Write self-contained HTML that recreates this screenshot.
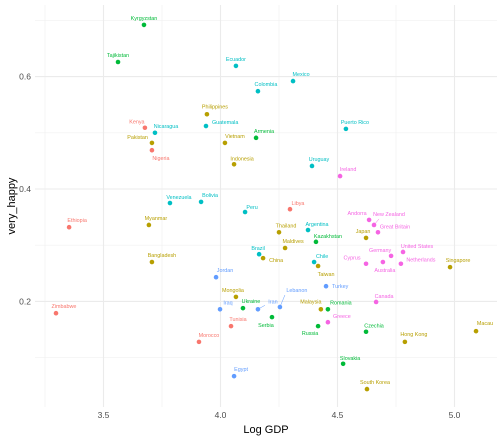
<!DOCTYPE html>
<html><head><meta charset="utf-8"><style>
html,body{margin:0;padding:0;background:#fff;}
svg{display:block;font-family:"Liberation Sans",sans-serif;}
</style></head><body>
<svg id="chart" width="503" height="439"></svg>
<script>
const countries=["Kyrgyzstan","Tajikistan","Ecuador","Mexico","Colombia","Puerto Rico","Armenia","Philippines","Guatemala","Kenya","Nicaragua","Pakistan","Nigeria","Vietnam","Indonesia","Uruguay","Ireland","Venezuela","Bolivia","Peru","Libya","Ethiopia","Myanmar","Andorra","New Zealand","Great Britain","Thailand","Argentina","Kazakhstan","Japan","Maldives","Brazil","China","Bangladesh","Chile","Taiwan","Cyprus","Germany","Australia","United States","Netherlands","Singapore","Jordan","Turkey","Mongolia","Canada","Ukraine","Iraq","Iran","Lebanon","Zimbabwe","Malaysia","Romania","Greece","Serbia","Tunisia","Russia","Czechia","Macau","Hong Kong","Morocco","Slovakia","Egypt","South Korea"];
const logGdp=[3.673,3.562,4.066,4.310,4.160,4.536,4.152,3.942,3.938,3.677,3.720,3.707,3.707,4.019,4.058,4.391,4.511,3.784,3.917,4.105,4.297,3.353,3.694,4.635,4.656,4.673,4.250,4.374,4.408,4.622,4.276,4.165,4.182,3.707,4.400,4.417,4.622,4.729,4.694,4.780,4.771,4.981,3.981,4.451,4.066,4.665,4.096,3.998,4.160,4.254,3.297,4.429,4.459,4.459,4.220,4.045,4.417,4.622,5.092,4.788,3.908,4.524,4.058,4.626];
const veryHappy=[0.692,0.626,0.619,0.592,0.574,0.507,0.491,0.533,0.512,0.509,0.500,0.482,0.469,0.482,0.444,0.441,0.423,0.375,0.377,0.359,0.364,0.332,0.336,0.345,0.336,0.323,0.323,0.327,0.306,0.313,0.295,0.284,0.277,0.270,0.270,0.263,0.267,0.281,0.270,0.288,0.267,0.261,0.243,0.227,0.208,0.199,0.188,0.186,0.186,0.190,0.179,0.186,0.186,0.163,0.172,0.156,0.156,0.146,0.147,0.128,0.128,0.089,0.067,0.044];
const regions=["E","E","L","L","L","L","E","A","L","F","L","A","F","A","A","L","W","L","L","L","F","F","A","W","W","W","A","L","E","A","A","L","A","A","L","A","W","W","W","W","W","A","M","M","A","W","E","M","M","M","F","A","E","W","E","F","E","E","A","A","F","E","M","A"];
const xTicks=[3.5,4.0,4.5,5.0];
const xTickLabels=["3.5","4.0","4.5","5.0"];
const yTicks=[0.2,0.4,0.6];
const yTickLabels=["0.2","0.4","0.6"];
// label layout offsets (px): dx, dy, anchor
const labelOff=[[0,-7,"m"],[0,-7,"m"],[0,-7,"m"],[8,-7,"m"],[8,-7,"m"],[9,-7,"m"],[8,-7,"m"],[8,-8,"m"],[6,-4,"s"],[-8,-6,"m"],[11,-7,"m"],[-4,-6,"e"],[9,8,"m"],[10,-7,"m"],[8,-6,"m"],[7,-7,"m"],[8,-7,"m"],[9,-6,"m"],[9,-7,"m"],[7,-5,"m"],[8,-6,"m"],[8,-7,"m"],[7,-7,"m"],[-12,-7,"m"],[15,-11,"m"],[17,-6,"m"],[7,-7,"m"],[9,-6,"m"],[12,-6,"m"],[-3,-7,"m"],[8,-7,"m"],[-1,-6,"m"],[6,2,"s"],[10,-7,"m"],[8,-6,"m"],[8,8,"m"],[-14,-6,"m"],[-11,-6,"m"],[2,8,"m"],[14,-6,"m"],[20,-4,"m"],[8,-7,"m"],[9,-7,"m"],[6,0,"s"],[-3,-7,"m"],[8,-6,"m"],[8,-7,"m"],[8,-7,"m"],[15,-8,"m"],[17,-17,"m"],[8,-7,"m"],[-10,-8,"m"],[13,-7,"m"],[14,-6,"m"],[-6,8,"m"],[7,-7,"m"],[-8,7,"m"],[8,-6,"m"],[9,-8,"m"],[9,-8,"m"],[10,-7,"m"],[7,-6,"m"],[7,-7,"m"],[8,-7,"m"]];
const colors={F:"#F8766D",A:"#B79F00",E:"#00BA38",L:"#00BFC4",M:"#619CFF",W:"#F564E3"};
const NS="http://www.w3.org/2000/svg";
const svg=document.getElementById('chart');
const L=35,R=497,T=5,B=407;
const xS=v=>103.5+(v-3.5)*234;
const yS=v=>189-(v-0.4)*562;
function mk(tag,attrs,parent){const e=document.createElementNS(NS,tag);for(const k in attrs)e.setAttribute(k,attrs[k]);(parent||svg).appendChild(e);return e;}
const grid=mk('g',{});


[3.25,3.75,4.25,4.75].forEach(v=>mk('line',{x1:xS(v),x2:xS(v),y1:T,y2:B,stroke:'#f0f0f0','stroke-width':0.6},grid));
[0.1,0.3,0.5,0.7].forEach(v=>mk('line',{x1:L,x2:R,y1:yS(v),y2:yS(v),stroke:'#f0f0f0','stroke-width':0.6},grid));
xTicks.forEach(v=>mk('line',{x1:xS(v),x2:xS(v),y1:T,y2:B,stroke:'#ebebeb','stroke-width':1.1},grid));
yTicks.forEach(v=>mk('line',{x1:L,x2:R,y1:yS(v),y2:yS(v),stroke:'#ebebeb','stroke-width':1.1},grid));
xTicks.forEach((v,i)=>{const t=mk('text',{x:xS(v),y:418,'text-anchor':'middle','font-size':8.5,fill:'#4d4d4d'});t.textContent=xTickLabels[i];

});
yTicks.forEach((v,i)=>{const t=mk('text',{x:31,y:yS(v)+3,'text-anchor':'end','font-size':8.5,fill:'#4d4d4d'});t.textContent=yTickLabels[i];

});
const xt=mk('text',{x:266,y:433,'text-anchor':'middle','font-size':11,fill:'#000'});xt.textContent='Log GDP';


const yt=mk('text',{x:15,y:206,'text-anchor':'middle','font-size':11,fill:'#000',transform:'rotate(-90 15 206)'});yt.textContent='very_happy';


const leaders=[[24,5,-6],[48,7,-4],[49,5,-12]];
countries.forEach((c,i)=>{
  const px=xS(logGdp[i]),py=yS(veryHappy[i]),col=colors[regions[i]];
  const o=labelOff[i];
  const lx=px+o[0],ly=py+o[1];
  const ld=leaders.find(l=>l[0]===i);
  if(ld){const ln=mk('line',{x1:px,y1:py,x2:px+ld[1],y2:py+ld[2],stroke:col,'stroke-width':0.5});
    
    }
  const p=mk('circle',{cx:px,cy:py,r:2.3,fill:col});
  
  
  const t=mk('text',{x:lx,y:ly+2,'text-anchor':o[2]==='m'?'middle':(o[2]==='s'?'start':'end'),'font-size':5.4,fill:col});
  t.textContent=c;
  
  
});
</script>
</body></html>
